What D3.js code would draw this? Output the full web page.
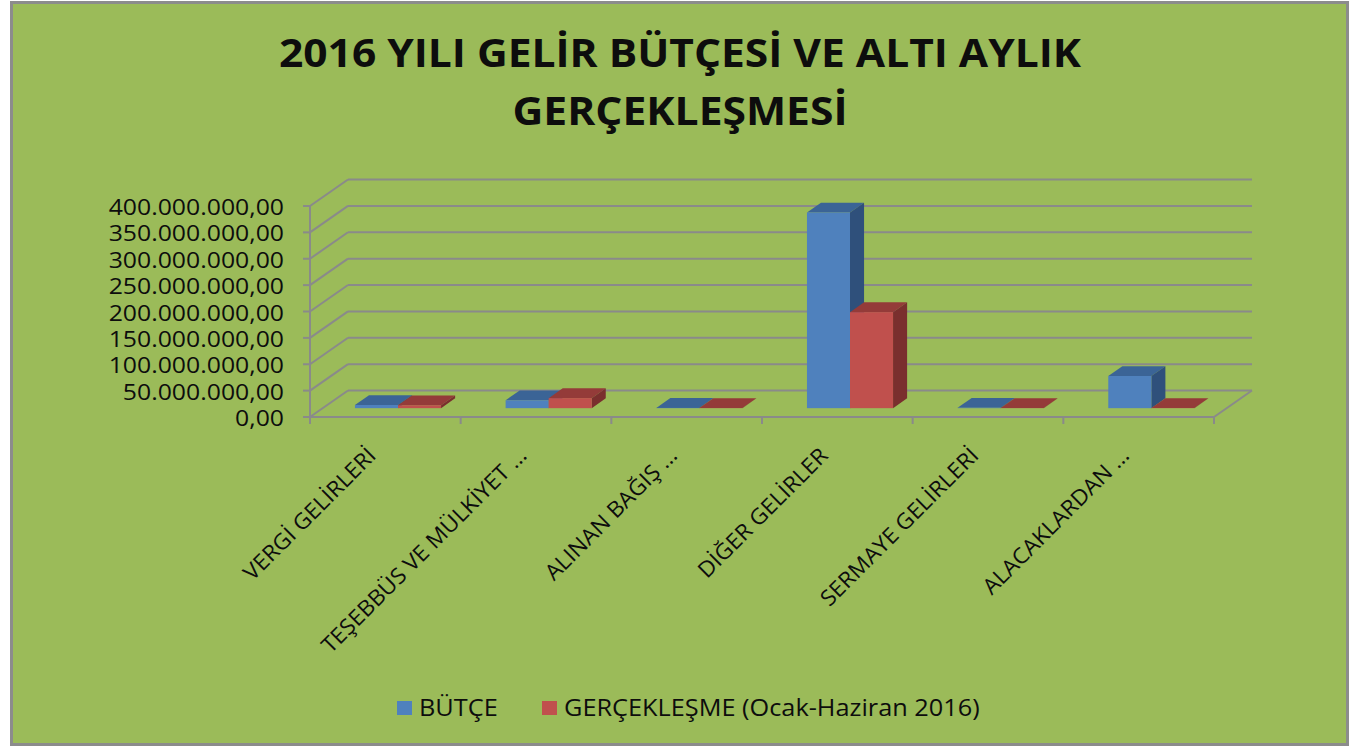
<!DOCTYPE html>
<html>
<head>
<meta charset="utf-8">
<script src="https://cdn.jsdelivr.net/npm/d3@7"></script>
<style>
  body { margin: 0; background: #fff; }
  svg { display: block; }
  text { font-family: "Open Sans", "DejaVu Sans", sans-serif; fill: #0d0d0d; }
</style>
</head>
<body>
<div id="chart"></div>
<script>
// chart data
const categories = ["VERGİ GELİRLERİ", "TEŞEBBÜS VE MÜLKİYET …", "ALINAN BAĞIŞ …", "DİĞER GELİRLER", "SERMAYE GELİRLERİ", "ALACAKLARDAN …"];
const seriesNames = ["BÜTÇE", "GERÇEKLEŞME (Ocak-Haziran 2016)"];
const butce = [6e6, 15e6, 0.5e6, 371e6, 0.8e6, 61e6];
const gerceklesme = [5.5e6, 19e6, 0.3e6, 182e6, 0.3e6, 0.4e6];
const yTicks = [0, 50e6, 100e6, 150e6, 200e6, 250e6, 300e6, 350e6, 400e6];
const titleLines = ["2016 YILI GELİR BÜTÇESİ VE ALTI AYLIK", "GERÇEKLEŞMESİ"];

const W = 1365, H = 748;
const colors = {
  front: ["#4f81bd", "#c0504d"],
  top: ["#3b6496", "#943b39"],
  side: ["#2f507b", "#7a2f2e"]
};
const grid = "#8a8a8a";

const svg = d3.select("#chart").append("svg")
  .attr("width", W).attr("height", H);

svg.append("rect")
  .attr("x", 11.5).attr("y", 2.5)
  .attr("width", 1336).attr("height", 742)
  .attr("fill", "#9bbb59")
  .attr("stroke", "#8c8c8c").attr("stroke-width", 3);

// stretch text horizontally a bit (the source picture is wider than the font)
function stretch(sel, k) {
  sel.each(function () {
    const w = this.getComputedTextLength();
    d3.select(this).attr("textLength", w * k).attr("lengthAdjust", "spacingAndGlyphs");
  });
}

// title
svg.selectAll(".title")
  .data(titleLines)
  .join("text")
  .attr("class", "title")
  .attr("x", 680)
  .attr("y", (d, i) => 67 + i * 58)
  .attr("text-anchor", "middle")
  .attr("font-size", 40)
  .attr("font-weight", "bold")
  .attr("textLength", (d, i) => i === 0 ? 802 : 335)
  .attr("lengthAdjust", "spacingAndGlyphs")
  .text(d => d);

// 3d frame: front plane scales + depth offset
const x = d3.scaleBand().domain(categories).range([310, 1214]);
const y = d3.scaleLinear().domain([0, 400e6]).range([417, 206]);
const depth = { dx: 38, dy: -26.5 };

const g = svg.append("g");

// back wall gridlines
g.selectAll(".back-grid")
  .data(yTicks)
  .join("line")
  .attr("x1", 310 + depth.dx).attr("x2", 1214 + depth.dx)
  .attr("y1", d => y(d) + depth.dy).attr("y2", d => y(d) + depth.dy)
  .attr("stroke", grid).attr("stroke-width", 2);

// side wall gridlines
g.selectAll(".side-grid")
  .data(yTicks)
  .join("line")
  .attr("x1", 310).attr("x2", 310 + depth.dx)
  .attr("y1", d => y(d)).attr("y2", d => y(d) + depth.dy)
  .attr("stroke", grid).attr("stroke-width", 2);

// floor edges
g.append("line")
  .attr("x1", 1214).attr("x2", 1214 + depth.dx)
  .attr("y1", y(0)).attr("y2", y(0) + depth.dy)
  .attr("stroke", grid).attr("stroke-width", 2);
g.append("line")
  .attr("x1", 310).attr("x2", 1214)
  .attr("y1", y(0)).attr("y2", y(0))
  .attr("stroke", grid).attr("stroke-width", 2);

// value axis
g.append("line")
  .attr("x1", 310).attr("x2", 310)
  .attr("y1", y(400e6)).attr("y2", y(0))
  .attr("stroke", grid).attr("stroke-width", 2);
g.selectAll(".ytick")
  .data(yTicks)
  .join("line")
  .attr("x1", 303).attr("x2", 310)
  .attr("y1", d => y(d)).attr("y2", d => y(d))
  .attr("stroke", grid).attr("stroke-width", 2);

const fmt = d3.formatLocale({ decimal: ",", thousands: ".", grouping: [3], currency: ["", ""] }).format(",.2f");
const yLabels = g.selectAll(".ylabel")
  .data(yTicks)
  .join("text")
  .attr("x", 284)
  .attr("y", d => y(d) + 1)
  .attr("text-anchor", "end")
  .attr("dominant-baseline", "central")
  .attr("font-size", 21)
  .text(d => fmt(d));
stretch(yLabels, 1.18);

// category ticks
const catEdges = categories.map(c => x(c)).concat([x.range()[1]]);
g.selectAll(".xtick")
  .data(catEdges)
  .join("line")
  .attr("x1", d => d).attr("x2", d => d)
  .attr("y1", y(0)).attr("y2", y(0) + 7)
  .attr("stroke", grid).attr("stroke-width", 2);

const xLabels = g.selectAll(".xlabel")
  .data(categories)
  .join("text")
  .attr("transform", d => `translate(${x(d) + x.bandwidth() / 2 - 8},457) rotate(-45)`)
  .attr("text-anchor", "end")
  .attr("font-size", 22)
  .text(d => d);
stretch(xLabels, 1.04);

// bars: 150% gap width, front face at 1/3 depth, 0.37 depth deep
const barW = x.bandwidth() / 3.5;
const x1 = d3.scaleBand().domain([0, 1]).range([0, barW * 2]);
const t0 = 1 / 3, tD = 0.37;
const fx = depth.dx * t0, fy = depth.dy * t0;
const bx = depth.dx * tD, by = depth.dy * tD;

const bars = [];
categories.forEach((c, i) => {
  [butce[i], gerceklesme[i]].forEach((v, s) => {
    const left = x(c) + (x.bandwidth() - barW * 2) / 2 + x1(s) + fx;
    bars.push({ left, right: left + barW, top: y(v) + fy, bottom: y(0) + fy, s });
  });
});

const barG = g.selectAll(".bar")
  .data(bars)
  .join("g");

barG.append("path")
  .attr("fill", d => colors.top[d.s])
  .attr("d", d => `M${d.left},${d.top}L${d.left + bx},${d.top + by}L${d.right + bx},${d.top + by}L${d.right},${d.top}Z`);
barG.append("path")
  .attr("fill", d => colors.side[d.s])
  .attr("d", d => `M${d.right},${d.top}L${d.right + bx},${d.top + by}L${d.right + bx},${d.bottom + by}L${d.right},${d.bottom}Z`);
barG.append("rect")
  .attr("fill", d => colors.front[d.s])
  .attr("x", d => d.left)
  .attr("y", d => d.top)
  .attr("width", barW)
  .attr("height", d => d.bottom - d.top);

// legend
const legendX = [397, 542];
const legend = svg.selectAll(".legend")
  .data(seriesNames)
  .join("g")
  .attr("transform", (d, i) => `translate(${legendX[i]},701)`);
legend.append("rect")
  .attr("width", 15).attr("height", 14)
  .attr("fill", (d, i) => colors.front[i]);
const legendText = legend.append("text")
  .attr("x", 22)
  .attr("y", 15)
  .attr("font-size", 23)
  .text(d => d);
stretch(legendText, 1.1);
</script>
</body>
</html>
